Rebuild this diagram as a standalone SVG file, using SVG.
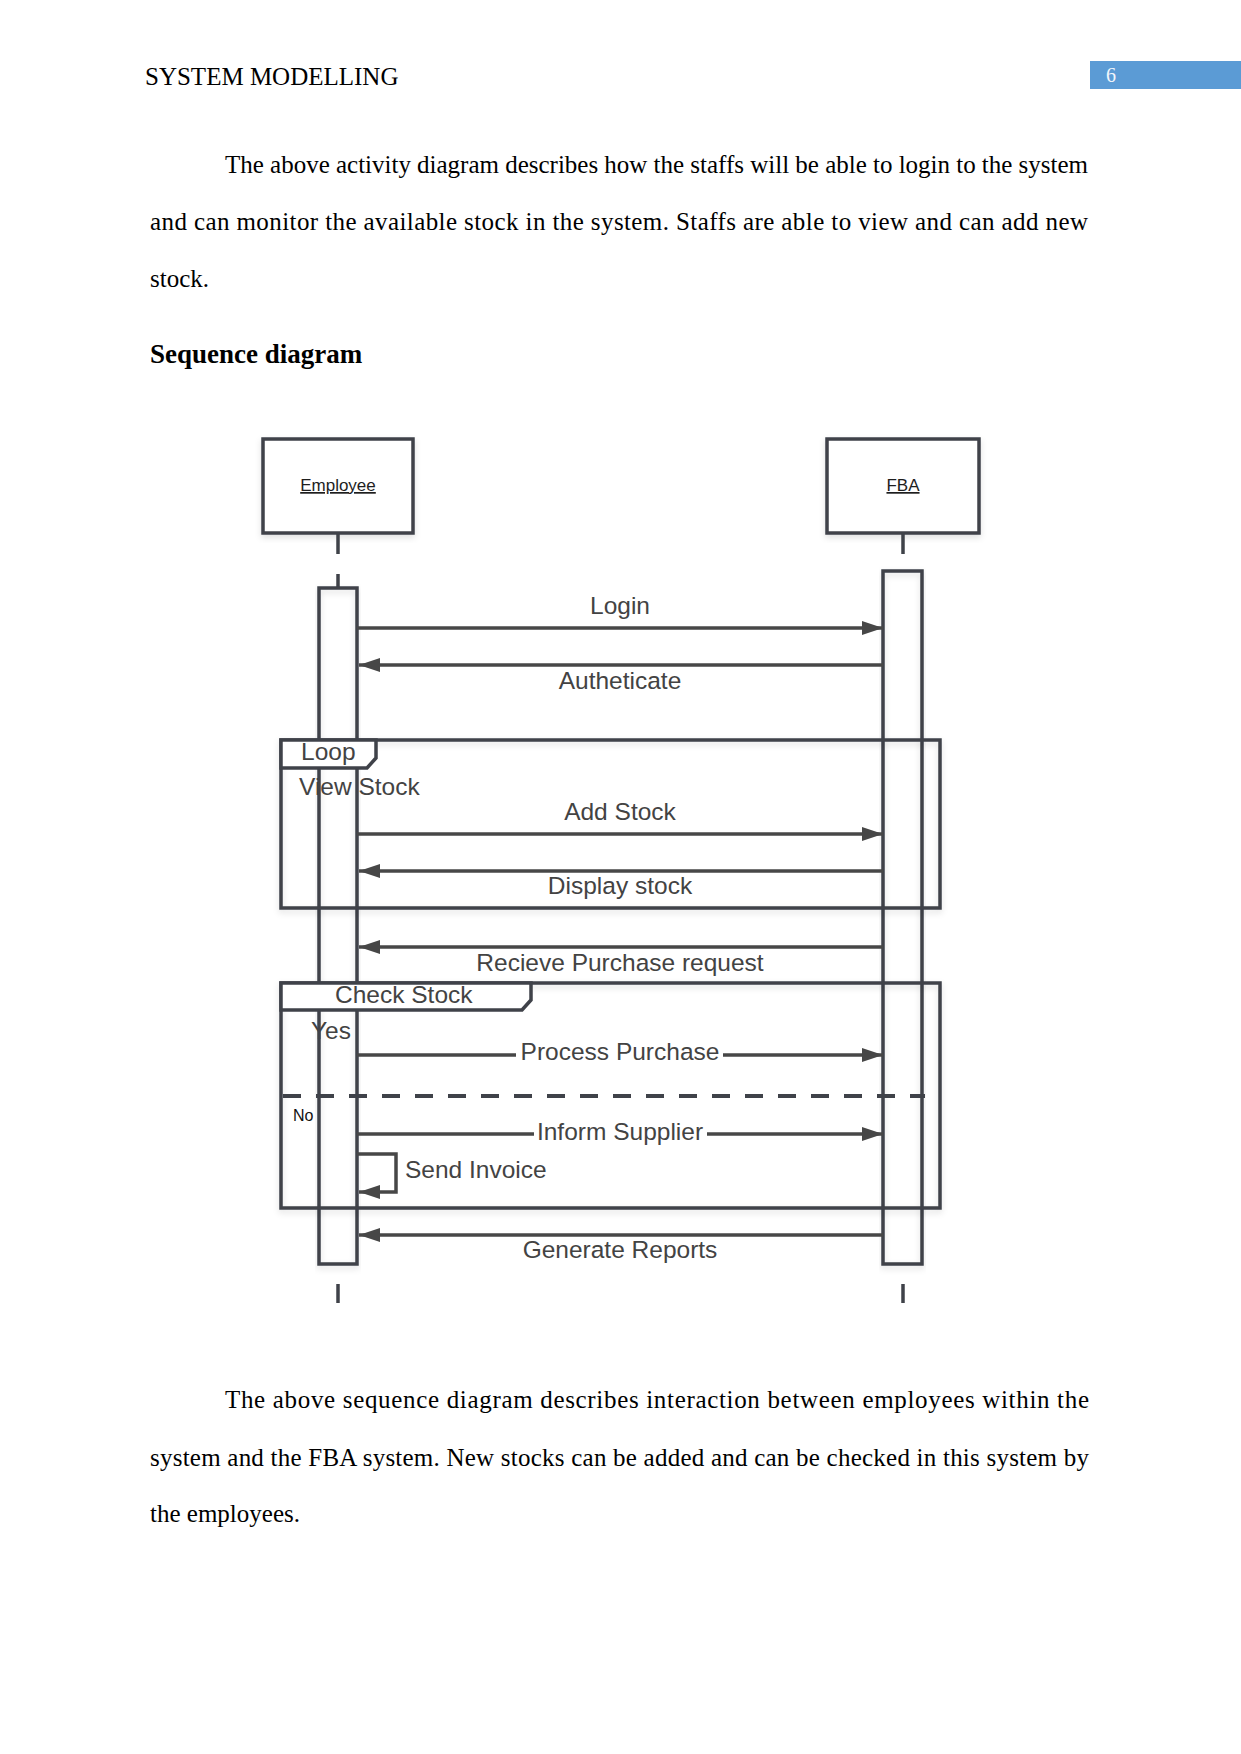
<svg xmlns="http://www.w3.org/2000/svg" width="1241" height="1754" viewBox="0 0 1241 1754">
<style>
.body{font-family:"Liberation Serif","Times New Roman",serif;font-size:25px;fill:#000}
.head{font-family:"Liberation Serif","Times New Roman",serif;font-size:27px;font-weight:bold;fill:#000}
.lbl{font-family:"Liberation Sans",Arial,sans-serif;font-size:24.5px;fill:#434343}
.mid{text-anchor:middle}
.actor{font-family:"Liberation Sans",Arial,sans-serif;font-size:17px;fill:#1e1e1e;text-decoration:underline;text-anchor:middle}
.box{fill:#fff;stroke:#3f4249;stroke-width:3.5}
.bar{fill:none;stroke:#3f4249;stroke-width:3.5}
.frame{fill:none;stroke:#3f4249;stroke-width:3.5}
.tab{fill:#fff;stroke:#3f4249;stroke-width:3.5;stroke-linejoin:miter}
.life{stroke:#3f4249;stroke-width:3.5}
.msg{stroke:#474747;stroke-width:3.5;fill:none}
.sh{filter:url(#shadow)}
</style>
<defs>
<filter id="shadow" x="-10%" y="-10%" width="120%" height="120%">
<feDropShadow dx="0" dy="3" stdDeviation="3" flood-color="#000" flood-opacity="0.12"/>
</filter>
<marker id="arr" markerUnits="userSpaceOnUse" markerWidth="24" markerHeight="16" refX="21" refY="7" orient="auto">
<path d="M0,0 L21,7 L0,14 z" fill="#474747"/>
</marker>
</defs>

<g id="page-header">
<text class="body" x="145" y="85">SYSTEM MODELLING</text>
<rect x="1090" y="61" width="151" height="28" fill="#5b9bd5"/>
<text x="1106" y="82" font-family="Liberation Serif, serif" font-size="20" fill="#f2f6fc">6</text>
</g>

<g id="para1">
<text class="body" x="225" y="173" textLength="863" lengthAdjust="spacing">The above activity diagram describes how the staffs will be able to login to the system</text>
<text class="body" x="150" y="230" textLength="938" lengthAdjust="spacing">and can monitor the available stock in the system. Staffs are able to view and can add new</text>
<text class="body" x="150" y="287">stock.</text>
<text class="head" x="150" y="363">Sequence diagram</text>
</g>

<g id="fragment-labels">
<text class="lbl" x="299" y="795">View Stock</text>
<text class="lbl" x="311" y="1039">Yes</text>
<text x="293" y="1121" font-family="Liberation Sans, Arial, sans-serif" font-size="16" fill="#111">No</text>
</g>

<g id="employee">
<rect class="box sh" x="263" y="439" width="150" height="94"/>
<text class="actor" x="338" y="491">Employee</text>
<line class="life" x1="338" y1="533" x2="338" y2="554"/>
<line class="life" x1="338" y1="574" x2="338" y2="588"/>
<rect class="bar sh" x="319" y="588" width="38" height="676"/>
<line class="life" x1="338" y1="1284" x2="338" y2="1303"/>
</g>

<g id="fba">
<rect class="box sh" x="827" y="439" width="152" height="94"/>
<text class="actor" x="903" y="491">FBA</text>
<line class="life" x1="903" y1="533" x2="903" y2="554"/>
<rect class="bar sh" x="883" y="571" width="39" height="693"/>
<line class="life" x1="903" y1="1284" x2="903" y2="1303"/>
</g>

<g id="loop-frame">
<rect class="frame sh" x="281" y="740" width="659" height="168"/>
<polygon class="tab" points="281,740 376,740 376,758 367,768 281,768"/>
<text class="lbl" x="301" y="760">Loop</text>
</g>

<g id="check-stock-frame">
<rect class="frame sh" x="281" y="983" width="659" height="225"/>
<polygon class="tab" points="281,983 531,983 531,1000 522,1010 281,1010"/>
<text class="lbl" x="335" y="1003">Check Stock</text>
<line x1="283" y1="1096" x2="925" y2="1096" stroke="#3f4249" stroke-width="4" stroke-dasharray="18 15"/>
</g>

<g id="connectors">
<line class="msg" x1="357" y1="628" x2="883" y2="628" marker-end="url(#arr)"/>
<text class="lbl mid" x="620" y="614">Login</text>

<line class="msg" x1="883" y1="665" x2="359" y2="665" marker-end="url(#arr)"/>
<text class="lbl mid" x="620" y="689">Autheticate</text>

<line class="msg" x1="357" y1="834" x2="883" y2="834" marker-end="url(#arr)"/>
<text class="lbl mid" x="620" y="820">Add Stock</text>

<line class="msg" x1="883" y1="871" x2="359" y2="871" marker-end="url(#arr)"/>
<text class="lbl mid" x="620" y="894">Display stock</text>

<line class="msg" x1="883" y1="947" x2="359" y2="947" marker-end="url(#arr)"/>
<text class="lbl mid" x="620" y="971">Recieve Purchase request</text>

<line class="msg" x1="357" y1="1055" x2="516" y2="1055"/>
<line class="msg" x1="723" y1="1055" x2="883" y2="1055" marker-end="url(#arr)"/>
<text class="lbl mid" x="620" y="1060">Process Purchase</text>

<line class="msg" x1="357" y1="1134" x2="534" y2="1134"/>
<line class="msg" x1="707" y1="1134" x2="883" y2="1134" marker-end="url(#arr)"/>
<text class="lbl mid" x="620" y="1140">Inform Supplier</text>

<path class="msg" d="M357,1154 H396 V1192 H359" marker-end="url(#arr)"/>
<text class="lbl" x="405" y="1178">Send Invoice</text>

<line class="msg" x1="883" y1="1235" x2="359" y2="1235" marker-end="url(#arr)"/>
<text class="lbl mid" x="620" y="1258">Generate Reports</text>
</g>

<g id="para2">
<text class="body" x="225" y="1408" textLength="864" lengthAdjust="spacing">The above sequence diagram describes interaction between employees within the</text>
<text class="body" x="150" y="1466" textLength="939" lengthAdjust="spacing">system and the FBA system. New stocks can be added and can be checked in this system by</text>
<text class="body" x="150" y="1522">the employees.</text>
</g>
</svg>
